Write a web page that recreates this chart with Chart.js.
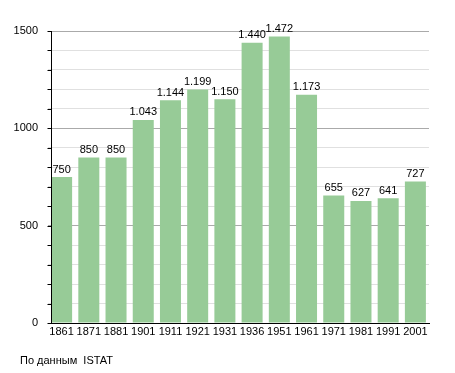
<!DOCTYPE html>
<html lang="ru">
<head>
    <meta charset="UTF-8">
    <title>Население</title>
    <script src="https://cdn.jsdelivr.net/npm/chart.js"></script>
    <style>
        body { margin: 0; background: #fff; }
        #wrap { position: relative; width: 455px; height: 373px; }
        #note { position: absolute; left: 20px; top: 354px; font: 11px "Liberation Sans", Arial, sans-serif; color: #000; }
    </style>
</head>
<body>
<div id="wrap">
    <canvas id="chart" width="455" height="373"></canvas>
    <div id="note">По данным&nbsp; ISTAT</div>
</div>
<script>
    const years = ['1861', '1871', '1881', '1901', '1911', '1921', '1931', '1936', '1951', '1961', '1971', '1981', '1991', '2001'];
    const population = [750, 850, 850, 1043, 1144, 1199, 1150, 1440, 1472, 1173, 655, 627, 641, 727];
    const yTicks = [0, 500, 1000, 1500];

    const FONT = '"Liberation Sans", Arial, sans-serif';
    const AXIS_X = 51; // the vertical axis sits a little right of the plot edge, bars start flush with it

    // thousands with a dot, like 1.043
    function fmt(v) {
        return String(v).replace(/\B(?=(\d{3})+(?!\d))/g, '.');
    }

    const valueLabels = {
        id: 'valueLabels',
        afterDatasetsDraw(chart) {
            const ctx = chart.ctx;
            const meta = chart.getDatasetMeta(0);
            ctx.save();
            ctx.font = '11px ' + FONT;
            ctx.fillStyle = '#000';
            ctx.textAlign = 'center';
            ctx.textBaseline = 'bottom';
            meta.data.forEach((bar, i) => {
                ctx.fillText(fmt(population[i]), bar.x, bar.y - 2);
            });
            ctx.restore();
        }
    };

    // y axis line and small tick marks every 100
    const yAxisLine = {
        id: 'yAxisLine',
        afterDraw(chart) {
            const ctx = chart.ctx;
            const y = chart.scales.y;
            const x = AXIS_X + 0.5;
            ctx.save();
            ctx.strokeStyle = '#000';
            ctx.lineWidth = 1;
            ctx.beginPath();
            ctx.moveTo(x, y.top);
            ctx.lineTo(x, y.bottom + 0.5);
            y.ticks.forEach(t => {
                const py = Math.round(y.getPixelForValue(t.value)) + 0.5;
                ctx.moveTo(x - 4, py);
                ctx.lineTo(x, py);
            });
            ctx.stroke();
            ctx.restore();
        }
    };

    new Chart(document.getElementById('chart'), {
        type: 'bar',
        data: {
            labels: years,
            datasets: [{
                data: population,
                backgroundColor: '#97cb97',
                barPercentage: 0.772,
                categoryPercentage: 1
            }]
        },
        options: {
            responsive: false,
            animation: false,
            layout: { padding: { top: 31, right: 26, left: 0, bottom: 0 } },
            plugins: { legend: { display: false }, tooltip: { enabled: false } },
            scales: {
                x: {
                    grid: { display: false, drawTicks: false },
                    border: { color: '#000', width: 1 },
                    ticks: { color: '#000', font: { family: FONT, size: 11 }, padding: 2, maxRotation: 0, autoSkip: false },
                    afterFit(scale) { scale.height = 50; }
                },
                y: {
                    min: 0,
                    max: 1500,
                    grid: {
                        color: ctx => (yTicks.includes(ctx.tick.value) ? '#aaaaaa' : '#e0e0e0'),
                        drawTicks: false
                    },
                    border: { display: false },
                    ticks: {
                        stepSize: 100,
                        autoSkip: false,
                        color: '#000',
                        font: { family: FONT, size: 11 },
                        padding: 10,
                        callback: v => (yTicks.includes(v) ? String(v) : '')
                    },
                    afterFit(scale) { scale.width = 48; }
                }
            }
        },
        plugins: [valueLabels, yAxisLine]
    });
</script>
</body>
</html>
